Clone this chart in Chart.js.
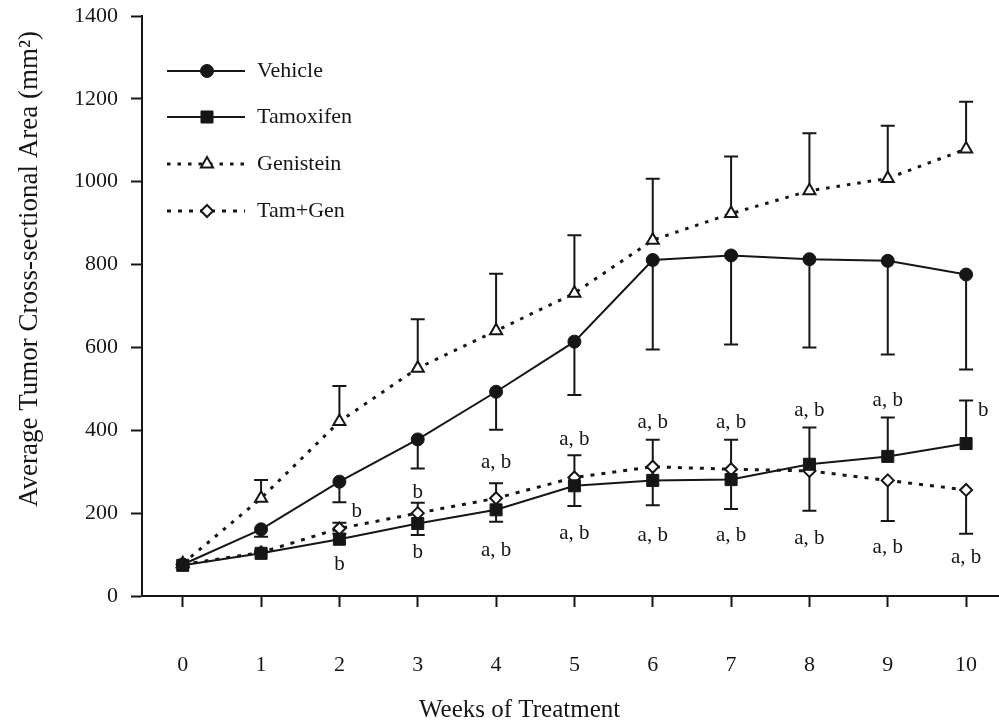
<!DOCTYPE html>
<html>
<head>
<meta charset="utf-8">
<title>Average Tumor Cross-sectional Area</title>
<script src="https://cdn.jsdelivr.net/npm/chart.js@4.4.1/dist/chart.umd.min.js"></script>
<style>
  html, body { margin: 0; padding: 0; background: #fff; }
  canvas { display: block; }
</style>
</head>
<body>
<canvas id="tumorChart" width="999" height="722"></canvas>
<script>
var weeks = [0, 1, 2, 3, 4, 5, 6, 7, 8, 9, 10];
var yTicks = [0, 200, 400, 600, 800, 1000, 1200, 1400];

// group means (mm2) and one-sided error bars
var vehicle = [76, 161, 276, 378, 493, 614, 811, 822, 813, 809, 776];
var vehicleErr = [0, 18, 50, 70, 92, 129, 216, 215, 213, 226, 229];
var tamoxifen = [74, 103, 137, 175, 208, 266, 279, 281, 318, 337, 368];
var tamoxifenErr = [0, 6, 40, 50, 64, 74, 98, 96, 89, 94, 104];
var genistein = [78, 236, 421, 550, 640, 731, 859, 923, 978, 1008, 1079];
var genisteinErr = [0, 44, 86, 118, 138, 140, 148, 138, 139, 127, 114];
var tamGen = [76, 105, 163, 200, 236, 286, 312, 306, 302, 279, 256];
var tamGenErr = [0, 0, 13, 53, 57, 69, 93, 96, 96, 98, 106];

// significance letters, weeks 2-10
var sigWeeks = [2, 3, 4, 5, 6, 7, 8, 9, 10];
var sigAbove = ["b", "b", "a, b", "a, b", "a, b", "a, b", "a, b", "a, b", "b"];
var sigAboveAt = [205, 251, 323, 377, 418, 418, 447, 473, 447];
var sigAboveShift = [0.22, 0, 0, 0, 0, 0, 0, 0, 0.22];
var sigBelow = ["b", "b", "a, b", "a, b", "a, b", "a, b", "a, b", "a, b", "a, b"];
var sigBelowAt = [77, 104, 111, 152, 145, 145, 140, 118, 94];

var ink = "#161616";
var serif = "'Liberation Serif', 'Times New Roman', serif";

function points(values) {
  return weeks.map(function (w, i) { return { x: w, y: values[i] }; });
}

var errorBars = {
  id: "errorBars",
  beforeDatasetsDraw: function (chart) {
    var ctx = chart.ctx;
    var xs = chart.scales.x, ys = chart.scales.y;
    ctx.save();
    ctx.strokeStyle = ink;
    ctx.lineWidth = 2;
    chart.data.datasets.forEach(function (ds) {
      ds.data.forEach(function (p, i) {
        var e = ds.errors[i];
        if (!e) return;
        var x = xs.getPixelForValue(p.x);
        var y0 = ys.getPixelForValue(p.y);
        var y1 = ys.getPixelForValue(p.y + ds.errorDir * e);
        ctx.beginPath();
        ctx.moveTo(x, y0);
        ctx.lineTo(x, y1);
        ctx.moveTo(x - 7, y1);
        ctx.lineTo(x + 7, y1);
        ctx.stroke();
      });
    });
    ctx.restore();
  }
};

var decorations = {
  id: "decorations",
  afterDraw: function (chart) {
    var ctx = chart.ctx;
    var xs = chart.scales.x, ys = chart.scales.y;
    ctx.save();
    ctx.fillStyle = ink;
    ctx.textAlign = "center";
    ctx.textBaseline = "middle";

    // letters above / below the low groups
    ctx.font = "21px " + serif;
    sigWeeks.forEach(function (w, i) {
      ctx.fillText(sigAbove[i], xs.getPixelForValue(w + sigAboveShift[i]), ys.getPixelForValue(sigAboveAt[i]));
      ctx.fillText(sigBelow[i], xs.getPixelForValue(w), ys.getPixelForValue(sigBelowAt[i]));
    });

    // axis titles
    ctx.font = "25px " + serif;
    ctx.fillText("Weeks of Treatment", xs.getPixelForValue(4.3), 710);
    ctx.save();
    ctx.translate(30, 269);
    ctx.rotate(-Math.PI / 2);
    ctx.font = "27px " + serif;
    ctx.fillText("Average Tumor Cross-sectional Area (mm\u00B2)", 0, 0);
    ctx.restore();

    // legend: line sample with marker, then name
    ctx.textAlign = "left";
    ctx.font = "22px " + serif;
    var rowY = [71, 117, 164, 211];
    chart.data.datasets.forEach(function (ds, i) {
      var y = rowY[i];
      ctx.save();
      ctx.strokeStyle = ink;
      ctx.lineWidth = ds.borderWidth;
      ctx.setLineDash(ds.borderDash || []);
      ctx.beginPath();
      ctx.moveTo(167, y);
      ctx.lineTo(245, y);
      ctx.stroke();
      ctx.restore();
      ctx.save();
      ctx.fillStyle = ds.pointBackgroundColor;
      ctx.strokeStyle = ink;
      ctx.lineWidth = ds.pointBorderWidth;
      Chart.helpers.drawPoint(ctx, {
        pointStyle: ds.pointStyle,
        radius: ds.pointRadius,
        borderWidth: ds.pointBorderWidth,
        rotation: 0
      }, 207, y);
      ctx.restore();
      ctx.fillText(ds.label, 257, y);
    });
    ctx.restore();
  }
};

var ctx = document.getElementById("tumorChart").getContext("2d");

var tumorChart = new Chart(ctx, {
  type: "line",
  data: {
    datasets: [
      {
        label: "Vehicle",
        data: points(vehicle),
        errors: vehicleErr,
        errorDir: -1,
        borderColor: ink,
        borderWidth: 2,
        pointStyle: "circle",
        pointRadius: 6.5,
        pointBackgroundColor: ink,
        pointBorderColor: ink,
        pointBorderWidth: 1
      },
      {
        label: "Tamoxifen",
        data: points(tamoxifen),
        errors: tamoxifenErr,
        errorDir: 1,
        borderColor: ink,
        borderWidth: 2,
        pointStyle: "rect",
        pointRadius: 8.5,
        pointBackgroundColor: ink,
        pointBorderColor: ink,
        pointBorderWidth: 1
      },
      {
        label: "Genistein",
        data: points(genistein),
        errors: genisteinErr,
        errorDir: 1,
        borderColor: ink,
        borderWidth: 3,
        borderDash: [3.5, 7],
        pointStyle: "triangle",
        pointRadius: 7,
        pointBackgroundColor: "#ffffff",
        pointBorderColor: ink,
        pointBorderWidth: 2
      },
      {
        label: "Tam+Gen",
        data: points(tamGen),
        errors: tamGenErr,
        errorDir: -1,
        borderColor: ink,
        borderWidth: 3,
        borderDash: [4, 7],
        pointStyle: "rectRot",
        pointRadius: 6,
        pointBackgroundColor: "#ffffff",
        pointBorderColor: ink,
        pointBorderWidth: 2
      }
    ]
  },
  options: {
    responsive: false,
    animation: false,
    layout: {
      autoPadding: false,
      padding: { top: 16, right: 0, bottom: 0, left: 0 }
    },
    plugins: {
      legend: { display: false },
      tooltip: { enabled: false }
    },
    elements: { line: { tension: 0 } },
    scales: {
      x: {
        type: "linear",
        min: -0.52,
        max: 10.42,
        afterBuildTicks: function (scale) {
          scale.ticks = weeks.map(function (w) { return { value: w }; });
        },
        afterFit: function (scale) {
          scale.height = 126;
          scale.paddingLeft = 0;
          scale.paddingRight = 0;
        },
        border: { display: true, color: ink, width: 2 },
        grid: {
          drawOnChartArea: false,
          drawTicks: true,
          tickLength: 11,
          tickWidth: 2,
          tickColor: ink
        },
        ticks: {
          color: ink,
          padding: 45,
          font: { family: serif, size: 22 }
        }
      },
      y: {
        min: 0,
        max: 1400,
        afterBuildTicks: function (scale) {
          scale.ticks = yTicks.map(function (v) { return { value: v }; });
        },
        afterFit: function (scale) {
          scale.width = 142;
          scale.paddingTop = 0;
          scale.paddingBottom = 0;
        },
        border: { display: true, color: ink, width: 2 },
        grid: {
          drawOnChartArea: false,
          drawTicks: true,
          tickLength: 11,
          tickWidth: 2,
          tickColor: ink
        },
        ticks: {
          color: ink,
          padding: 13,
          font: { family: serif, size: 22 },
          callback: function (value) { return String(value); }
        }
      }
    }
  },
  plugins: [errorBars, decorations]
});
</script>
</body>
</html>
